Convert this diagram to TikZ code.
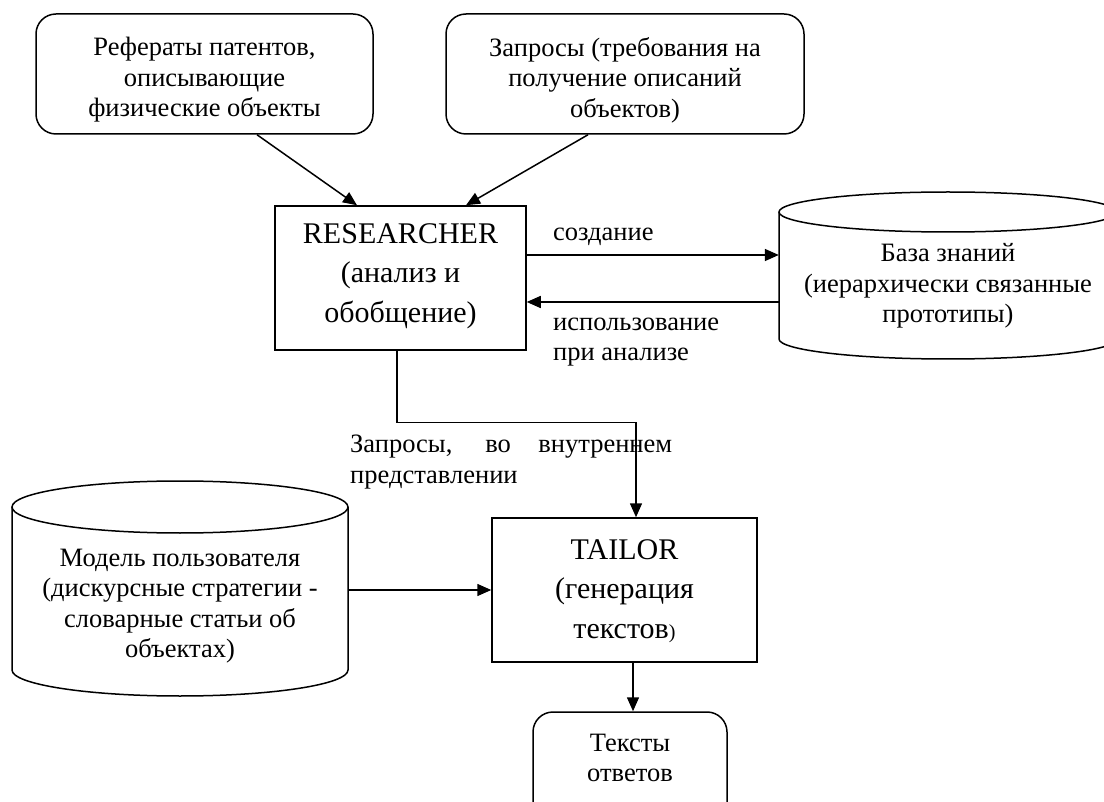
\documentclass[tikz,border=0pt]{standalone}
\usepackage{fontspec}
\setmainfont{Liberation Serif}
\usetikzlibrary{arrows.meta}
\tikzset{
  ln/.style={line width=1.5pt},
  arr/.style={ln,-{Triangle[length=14pt,width=12pt]}},
  rbox/.style={draw,ln,rounded corners=20pt,inner sep=0pt},
  sbox/.style={draw,ln,inner sep=0pt},
  holder/.style={inner sep=0pt},
  sm/.style={inner sep=0pt,font=\fontsize{26.5}{30.5}\selectfont},
  bg/.style={inner sep=0pt,font=\fontsize{30}{39.5}\selectfont},
}
\begin{document}
\begin{tikzpicture}[x=1pt,y=-1pt]
\useasboundingbox (0,0) rectangle (1104,802);
% top boxes
\node[rbox,minimum width=337pt,minimum height=120pt] (ref) at (204.5,74) {};
\node[sm,align=center] (reft) at (204.5,80) {Рефераты патентов,\\описывающие\\физические объекты};
\node[rbox,minimum width=358pt,minimum height=120pt] (req) at (625,74) {};
\node[sm,align=center] (reqt) at (625,80) {Запросы (требования на\\получение описаний\\объектов)};
% researcher
\node[sbox,minimum width=251pt,minimum height=144pt] (res) at (400.5,278) {};
\node[bg,align=center] (rest) at (400.5,276) {RESEARCHER\\(анализ и\\обобщение)};
% knowledge base cylinder
\draw[ln] (779,212) -- (779,339) arc[start angle=180,end angle=360,x radius=169pt,y radius=20pt] -- (1117,212);
\draw[ln] (948,212) ellipse[x radius=169pt,y radius=20pt];
\node[holder,minimum width=338pt,minimum height=167pt] (db) at (948,275.5) {};
\node[sm,align=center] (dbt) at (948,286) {База знаний\\(иерархически связанные\\прототипы)};
% user model cylinder
\draw[ln] (12,507) -- (12,670) arc[start angle=180,end angle=360,x radius=168pt,y radius=26pt] -- (348,507);
\draw[ln] (180,507) ellipse[x radius=168pt,y radius=26pt];
\node[holder,minimum width=336pt,minimum height=215pt] (model) at (180,588.5) {};
\node[sm,align=center] (modelt) at (180,606) {Модель пользователя\\(дискурсные стратегии -\\словарные статьи об\\объектах)};
% tailor
\node[sbox,minimum width=265pt,minimum height=144pt] (tailor) at (624.5,590) {};
\node[bg,align=center] (tailort) at (624.5,591) {TAILOR\\(генерация\\текстов{\fontsize{20}{39.5}\selectfont )}};
% answers
\node[rbox,minimum width=194pt,minimum height=110pt] (otv) at (630,767) {};
\node[sm,align=center] (otvt) at (630,758) {Тексты\\ответов};
% labels
\node[sm,anchor=west] (lcreate) at (553,237) {создание};
\node[sm,align=left,anchor=west] (luse) at (553,342) {использование\\при анализе};
\node[sm,align=left,anchor=west] (lreq) at (350,462) {\makebox[322pt][s]{Запросы, во внутреннем}\\представлении};
% connectors
\draw[arr] ([xshift=52.5pt]ref.south) -- ([xshift=-43.5pt]res.north);
\draw[arr] ([xshift=-37pt]req.south) -- ([xshift=65.5pt]res.north);
\draw[arr] ([yshift=23pt]res.east) -- ([yshift=23pt]res.east -| db.west);
\draw[arr] ([yshift=-24pt]res.east -| db.west) -- ([yshift=-24pt]res.east);
\draw[arr] ([xshift=-3.5pt]res.south) -- ++(0,72) -| ([xshift=11.5pt]tailor.north);
\draw[arr] (model.east |- tailor.west) -- (tailor.west);
\draw[arr] ([xshift=8.5pt]tailor.south) -- ([xshift=8.5pt]tailor.south |- otv.north);
\end{tikzpicture}
\end{document}
